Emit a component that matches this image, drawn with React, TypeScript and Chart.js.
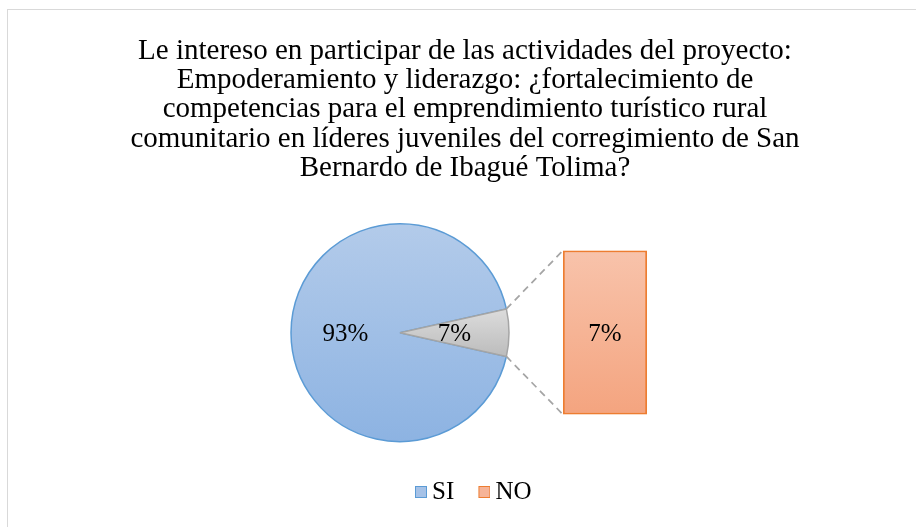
import React, { useEffect, useRef } from 'react';
import { Chart, registerables, layouts } from 'chart.js';

Chart.register(...registerables);

// ---- data ----
const categories = ['SI', 'NO'];
const values = [93, 7];
const titleLines = [
  'Le intereso en participar de las actividades del proyecto:',
  'Empoderamiento y liderazgo: ¿fortalecimiento de',
  'competencias para el emprendimiento turístico rural',
  'comunitario en líderes juveniles del corregimiento de San',
  'Bernardo de Ibagué Tolima?',
];
// pie: first category + combined "other" slice; bar: the split-off categories
const pieLabels = [categories[0], 'Otro'];
const pieValues = [values[0], values.slice(1).reduce((a, b) => a + b, 0)];
const barLabels = categories.slice(1);
const barValues = values.slice(1);

// ---- styles ----
const FONT = '"Liberation Serif", "Times New Roman", serif';
const fillTop = ['#b3cbea', '#f8c3ab'];
const fillBottom = ['#8db3e2', '#f4a47f'];
const legendFill = ['#a6c2e7', '#f6b498'];
const borderCol = ['#5b9bd5', '#ed7d31'];
const greyTop = '#dcdcdc';
const greyBottom = '#bcbcbc';
const greyBorder = '#a5a5a5';

const PIE_LEFT = 7;
const PIE_TOP = 0;
const BAR_LEFT = 554;
const BAR_TOP = 240;
const PIE_RADIUS = 109;
const LEGEND_BOX_W = 21;

function makeLegendMarker(fill: string, stroke: string): HTMLCanvasElement {
  const c = document.createElement('canvas');
  c.width = LEGEND_BOX_W + 15;
  c.height = 12;
  const g = c.getContext('2d') as CanvasRenderingContext2D;
  g.fillStyle = fill;
  g.fillRect(c.width - 12, 0, 12, 12);
  g.strokeStyle = stroke;
  g.lineWidth = 1;
  g.strokeRect(c.width - 11.5, 0.5, 11, 11);
  return c;
}

export default function App() {
  const pieRef = useRef<HTMLCanvasElement>(null);
  const barRef = useRef<HTMLCanvasElement>(null);

  useEffect(() => {
    const markers = categories.map((_, i) => makeLegendMarker(legendFill[i], borderCol[i]));

    const barChart = new Chart(barRef.current as HTMLCanvasElement, {
      type: 'bar',
      data: {
        labels: barLabels,
        datasets: [
          {
            data: barValues,
            backgroundColor: (c: any) => {
              const ca = c.chart.chartArea;
              if (!ca) return fillBottom[1];
              const g = c.chart.ctx.createLinearGradient(0, ca.top, 0, ca.bottom);
              g.addColorStop(0, fillTop[1]);
              g.addColorStop(1, fillBottom[1]);
              return g;
            },
            borderColor: borderCol[1],
            borderWidth: 2,
            borderSkipped: false,
            barPercentage: 1,
            categoryPercentage: 1,
          } as any,
        ],
      },
      options: {
        responsive: false,
        animation: false,
        layout: { padding: { left: 9, right: 9, top: 10.5, bottom: 9.5 } },
        scales: {
          x: { display: false },
          y: { display: false, min: 0, max: Math.max(...barValues) },
        },
        plugins: {
          legend: { display: false },
          tooltip: { enabled: false },
          title: { display: false },
        },
      },
      plugins: [
        {
          id: 'barLabel',
          afterDatasetsDraw(chart: any) {
            const ctx = chart.ctx;
            const meta = chart.getDatasetMeta(0);
            ctx.save();
            ctx.font = `25px ${FONT}`;
            ctx.fillStyle = '#000';
            ctx.textAlign = 'center';
            ctx.textBaseline = 'middle';
            meta.data.forEach((el: any, i: number) => {
              ctx.fillText(`${barValues[i]}%`, el.x, (el.y + el.base) / 2 + 2);
            });
            ctx.restore();
          },
        },
      ],
    });

    const otherSweep = (pieValues[1] / (pieValues[0] + pieValues[1])) * 360;

    const pieChart = new Chart(pieRef.current as HTMLCanvasElement, {
      type: 'pie',
      data: {
        labels: pieLabels,
        datasets: [
          {
            data: pieValues,
            radius: PIE_RADIUS,
            backgroundColor: (c: any) => {
              const ca = c.chart.chartArea;
              if (!ca) return c.dataIndex === 0 ? fillBottom[0] : greyBottom;
              const cy = (ca.top + ca.bottom) / 2;
              const ctx = c.chart.ctx;
              if (c.dataIndex === 0) {
                const g = ctx.createLinearGradient(0, cy - PIE_RADIUS, 0, cy + PIE_RADIUS);
                g.addColorStop(0, fillTop[0]);
                g.addColorStop(1, fillBottom[0]);
                return g;
              }
              const h = PIE_RADIUS * Math.sin(((otherSweep / 2) * Math.PI) / 180);
              const g = ctx.createLinearGradient(0, cy - h, 0, cy + h);
              g.addColorStop(0, greyTop);
              g.addColorStop(1, greyBottom);
              return g;
            },
            borderColor: [borderCol[0], greyBorder],
            borderWidth: 1.5,
          } as any,
        ],
      },
      options: {
        responsive: false,
        animation: false,
        rotation: 90 + otherSweep / 2,
        layout: { padding: { top: 0, bottom: 12.5, left: 0, right: 0 } },
        plugins: {
          title: {
            display: true,
            text: titleLines,
            color: '#000',
            font: { family: FONT, size: 29, weight: 'normal', lineHeight: 29.3 / 29 },
            padding: { top: 36.5, bottom: 10.6 },
          },
          legend: {
            position: 'bottom',
            labels: {
              color: '#000',
              font: { family: FONT, size: 25 },
              usePointStyle: true,
              boxWidth: LEGEND_BOX_W,
              boxHeight: 12,
              padding: 7.7,
              generateLabels: () =>
                categories.map((c, i) => ({
                  text: c,
                  fillStyle: legendFill[i],
                  strokeStyle: borderCol[i],
                  pointStyle: markers[i],
                  lineWidth: 1,
                  hidden: false,
                  index: i,
                  datasetIndex: 0,
                })),
            },
          },
          tooltip: { enabled: false },
        },
      } as any,
      plugins: [
        {
          id: 'spacer',
          beforeInit(chart: any) {
            layouts.addBox(chart, {
              position: 'right',
              weight: 0,
              fullSize: false,
              options: {},
              left: 0,
              top: 0,
              right: 0,
              bottom: 0,
              width: 0,
              height: 0,
              isHorizontal() {
                return false;
              },
              update(_w: number, h: number) {
                this.width = 130;
                this.height = h;
              },
              draw() {},
            } as any);
          },
        },
        {
          id: 'pieExtras',
          afterDatasetsDraw(chart: any) {
            const ctx = chart.ctx;
            const meta = chart.getDatasetMeta(0);
            // connectors
            const arc = meta.data[1];
            const bar = barChart.getDatasetMeta(0).data[0] as any;
            if (arc && bar) {
              const { x, y, startAngle, endAngle, outerRadius } = arc;
              const bx = bar.x - bar.width / 2 + BAR_LEFT - PIE_LEFT;
              const bTop = bar.y + BAR_TOP - PIE_TOP;
              const bBot = bar.base + BAR_TOP - PIE_TOP;
              ctx.save();
              ctx.strokeStyle = '#a5a5a5';
              ctx.lineWidth = 1.75;
              ctx.setLineDash([7, 5]);
              ctx.beginPath();
              ctx.moveTo(x + Math.cos(startAngle) * outerRadius, y + Math.sin(startAngle) * outerRadius);
              ctx.lineTo(bx, bTop);
              ctx.moveTo(x + Math.cos(endAngle) * outerRadius, y + Math.sin(endAngle) * outerRadius);
              ctx.lineTo(bx, bBot);
              ctx.stroke();
              ctx.restore();
            }
            // labels
            ctx.save();
            ctx.font = `25px ${FONT}`;
            ctx.fillStyle = '#000';
            ctx.textAlign = 'center';
            ctx.textBaseline = 'middle';
            meta.data.forEach((el: any, i: number) => {
              const p = el.getCenterPoint();
              ctx.fillText(`${pieValues[i]}%`, p.x, p.y + 2);
            });
            ctx.restore();
          },
        },
      ],
    });

    return () => {
      pieChart.destroy();
      barChart.destroy();
    };
  }, []);

  return (
    <div
      style={{
        position: 'fixed',
        left: 0,
        top: 0,
        width: 916,
        height: 527,
        overflow: 'hidden',
        background: '#fff',
      }}
    >
      <div
        style={{
          position: 'absolute',
          left: 7,
          top: 9,
          width: 1000,
          height: 1000,
          borderLeft: '1px solid #d9d9d9',
          borderTop: '1px solid #d9d9d9',
        }}
      />
      <canvas
        ref={pieRef}
        width={916}
        height={527}
        style={{ position: 'absolute', left: PIE_LEFT, top: PIE_TOP }}
      />
      <canvas
        ref={barRef}
        width={102}
        height={184}
        style={{ position: 'absolute', left: BAR_LEFT, top: BAR_TOP }}
      />
    </div>
  );
}
